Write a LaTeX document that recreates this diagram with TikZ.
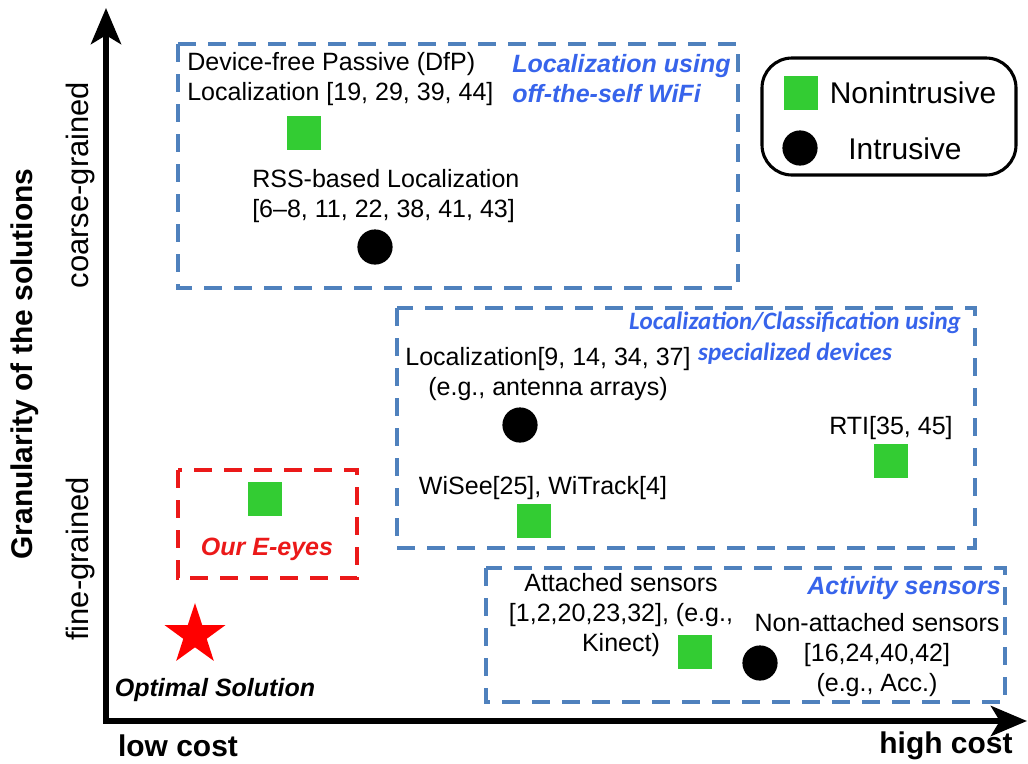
\documentclass[tikz,border=0pt]{standalone}
\usepackage{fontspec}
\setmainfont{Liberation Sans}
\newfontfamily\calibrifont{Carlito}
\usetikzlibrary{shapes.geometric,arrows.meta}
\definecolor{groupblue}{RGB}{79,129,189}
\definecolor{labelblue}{RGB}{55,100,235}
\definecolor{markgreen}{RGB}{51,204,51}
\definecolor{ourred}{RGB}{235,25,25}
\begin{document}
\begin{tikzpicture}
  [x=0.025cm,y=-0.025cm,inner sep=0pt,
   every node/.style={font=\fontsize{17.8}{21.3}\selectfont,align=center},
   nonintr/.style={rectangle,fill=markgreen,minimum size=0.85cm},
   intr/.style={circle,fill=black,minimum size=0.88cm},
   grouplabel/.style={text=labelblue,font=\fontsize{17.8}{21.3}\selectfont\bfseries\itshape},
   groupbox/.style={draw=groupblue,line width=2.2pt,dash pattern=on 0.45cm off 0.3cm},
   axislabel/.style={font=\fontsize{21.3}{25}\selectfont\bfseries},
   grain/.style={rotate=90,font=\fontsize{22}{26}\selectfont},
   axistip/.tip={Stealth[length=0.9cm,width=0.75cm,inset=0.22cm]}]
  \useasboundingbox (0,0) rectangle (1028,764);

  % axes
  \coordinate (ytip) at (106,8);
  \coordinate (origin) at (106,721);
  \coordinate (xtip) at (1027,721);
  \draw[line width=4.3pt,axistip-axistip] (ytip) -- (origin) -- (xtip);
  \node[axislabel] (low) at (178,746) {low cost};
  \node[axislabel] (high) at (946,746) {high cost};
  \node[axislabel,rotate=90] (gran) at (25,364) {Granularity of the solutions};
  \node[grain] (coarse) at (81,185) {coarse-grained};
  \node[grain] (fine) at (81,559) {fine-grained};

  % groups
  \draw[groupbox] (178,44) rectangle (738,288);
  \draw[groupbox] (397,308) rectangle (975,548);
  \draw[groupbox] (486,568) rectangle (1005,702);
  \draw[groupbox,draw=ourred] (178,470) rectangle (357,578);

  % off-the-self WiFi
  \node[grouplabel,anchor=west,align=left] (wifi) at (512,79) {Localization using\\off-the-self WiFi};
  \node[anchor=west,align=left] (dfp) at (187,79) {Device-free Passive (DfP)\\Localization [19, 29, 39, 44]};
  \node[nonintr] (dfpmark) at (304,133) {};
  \node[anchor=west,align=left] (rss) at (252,196) {RSS-based Localization\\{[6--8, 11, 22, 38, 41, 43]}};
  \node[intr] (rssmark) at (375,247) {};

  % specialized devices
  \node[grouplabel,font=\fontsize{17.8}{22}\selectfont\calibrifont\bfseries\itshape] (special) at (795,338) {Localization/Classification using\\specialized devices};
  \node (antenna) at (548,374) {Localization[9, 14, 34, 37]\\(e.g., antenna arrays)};
  \node[intr] (antennamark) at (520,425) {};
  \node (rti) at (891,428) {RTI[35, 45]};
  \node[nonintr] (rtimark) at (891,461) {};
  \node (wisee) at (543,488) {WiSee[25], WiTrack[4]};
  \node[nonintr] (wiseemark) at (534,521) {};

  % activity sensors
  \node[grouplabel,anchor=east] (activity) at (1001,588) {Activity sensors};
  \node (attached) at (621,615) {Attached sensors\\{[1,2,20,23,32]}, (e.g.,\\Kinect)};
  \node[nonintr] (attachedmark) at (695,652) {};
  \node[intr] (nonattachedmark) at (760,663) {};
  \node (nonattached) at (877,655) {Non-attached sensors\\{[16,24,40,42]}\\(e.g., Acc.)};

  % E-eyes and optimum
  \node[nonintr] (eeyesmark) at (265,499) {};
  \node[text=ourred,font=\fontsize{17.8}{21.3}\selectfont\bfseries\itshape] (eeyes) at (267,549) {Our E-eyes};
  \node[star,star points=5,star point ratio=2.6,fill=red,minimum size=1.6cm] (optimal) at (195,635) {};
  \node[font=\fontsize{17.8}{21.3}\selectfont\bfseries\itshape] (optimaltxt) at (215,690) {Optimal Solution};

  % legend
  \draw[line width=2.2pt,rounded corners=0.75cm] (762,58) rectangle (1016,175);
  \node[nonintr] (legnonintr) at (801,93) {};
  \node[font=\fontsize{21.3}{25}\selectfont] (legnonintrtxt) at (913,93) {Nonintrusive};
  \node[intr] (legintr) at (800,148) {};
  \node[font=\fontsize{21.3}{25}\selectfont] (legintrtxt) at (905,149) {Intrusive};
\end{tikzpicture}
\end{document}
